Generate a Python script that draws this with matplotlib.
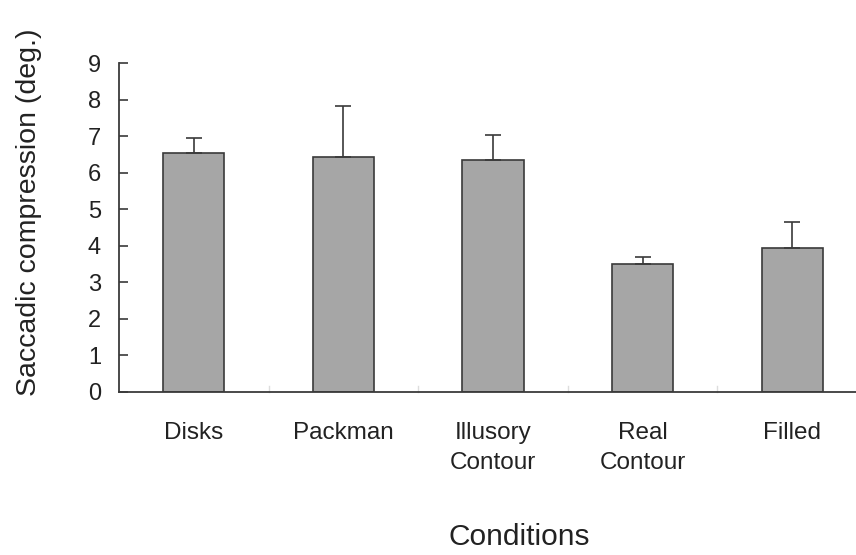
import matplotlib.pyplot as plt

plt.rcParams['font.family'] = ['Liberation Sans', 'DejaVu Sans']

conditions = ["Disks", "Packman", "Illusory\nContour", "Real\nContour", "Filled"]
compression = [6.53, 6.44, 6.35, 3.50, 3.93]
err_up = [0.43, 1.40, 0.68, 0.20, 0.72]

fig = plt.figure(figsize=(8.56, 5.55), dpi=100)
ax = fig.add_axes([119/856, 163.3/555, (856-119)/856, (391.7-63.3)/555])

x = list(range(len(conditions)))
ax.bar(x, compression, width=0.41, color='#a6a6a6', edgecolor='#3a3a3a', linewidth=1.2,
       yerr=[[0]*len(err_up), err_up], capsize=6,
       error_kw=dict(ecolor='#3a3a3a', elinewidth=1.2, capthick=1.2))

ax.set_xlim(-0.5, -0.5 + (856-119)/149.6)
ax.set_ylim(0, 9)
ax.set_yticks(range(10))
ax.set_xticks(x)
ax.set_xticklabels(conditions, fontsize=17.5, color='#222222', linespacing=1.45, va='top')
ax.tick_params(axis='x', length=0, pad=22)
ax.tick_params(axis='y', direction='in', length=6.5, width=1.2, color='#3a3a3a',
               labelsize=17, labelcolor='#222222', pad=13)
# faint boundary ticks between categories
for b in [0.5, 1.5, 2.5, 3.5]:
    ax.plot([b, b], [0, 0.15], color='#dddddd', lw=1, clip_on=False)

for s in ['top', 'right']:
    ax.spines[s].set_visible(False)
for s in ['left', 'bottom']:
    ax.spines[s].set_color('#3a3a3a')
    ax.spines[s].set_linewidth(1.3)

fig.text(29/856, 1 - 212/555, "Saccadic compression (deg.)", fontsize=20.5,
         color='#222222', rotation=90, ha='center', va='center')
fig.text(519/856, 1 - 537/555, "Conditions", fontsize=21.5,
         color='#222222', ha='center', va='center')

fig.savefig('out.png', dpi=100)
